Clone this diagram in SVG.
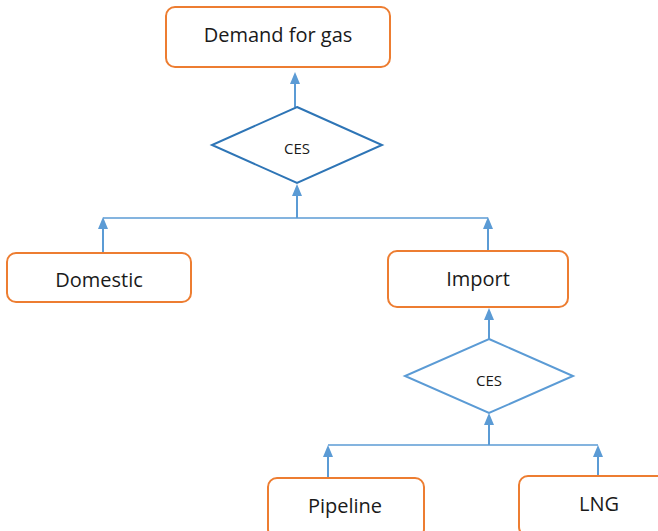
<svg xmlns="http://www.w3.org/2000/svg" width="658" height="531" viewBox="0 0 658 531">
<style>
.box{fill:#fff;stroke:#ED7D31;stroke-width:2}
.lbl{font-family:"Open Sans","Liberation Sans",sans-serif;font-size:20px;fill:#1a1a1a;text-anchor:middle}
.small{font-family:"Open Sans","Liberation Sans",sans-serif;font-size:15px;fill:#1a1a1a;text-anchor:middle}
.con{stroke:#5B9BD5;stroke-width:2;fill:none}
.hl{stroke:#5B9BD5;stroke-width:1.3;fill:none}
.ah{fill:#5B9BD5}
</style>
<g id="connectors">
<line class="con" x1="295" y1="107" x2="295" y2="82"/>
<path class="ah" d="M290,84 L295,72 L300,84 Z"/>
<line class="con" x1="297" y1="218" x2="297" y2="194"/>
<path class="ah" d="M292,196 L297,184 L302,196 Z"/>
<line class="hl" x1="103" y1="218" x2="488" y2="218"/>
<line class="con" x1="103" y1="253" x2="103" y2="227"/>
<path class="ah" d="M98,229 L103,217 L108,229 Z"/>
<line class="con" x1="488" y1="251" x2="488" y2="227"/>
<path class="ah" d="M483,229 L488,217 L493,229 Z"/>
<line class="con" x1="489" y1="339" x2="489" y2="318"/>
<path class="ah" d="M484,320 L489,308 L494,320 Z"/>
<line class="con" x1="489" y1="445" x2="489" y2="423"/>
<path class="ah" d="M484,425 L489,413 L494,425 Z"/>
<line class="hl" x1="328" y1="445" x2="598" y2="445"/>
<line class="con" x1="328" y1="477" x2="328" y2="455"/>
<path class="ah" d="M323,457 L328,445 L333,457 Z"/>
<line class="con" x1="598" y1="476" x2="598" y2="455"/>
<path class="ah" d="M593,457 L598,445 L603,457 Z"/>
</g>
<g id="demand">
<rect class="box" x="166" y="7" width="224" height="60" rx="9"/>
<text class="lbl" x="278" y="42">Demand for gas</text>
</g>
<g id="ces1">
<polygon points="297,107 382,145 297,183 212,145" fill="#fff" stroke="#2E75B6" stroke-width="2"/>
<text class="small" x="297" y="154">CES</text>
</g>
<g id="domestic">
<rect class="box" x="7" y="253" width="184" height="49" rx="9"/>
<text class="lbl" x="99" y="287">Domestic</text>
</g>
<g id="import">
<rect class="box" x="388" y="251" width="180" height="56" rx="9"/>
<text class="lbl" x="478" y="286">Import</text>
</g>
<g id="ces2">
<polygon points="489,339 573,376 489,413 405,376" fill="#fff" stroke="#5B9BD5" stroke-width="2"/>
<text class="small" x="489" y="386">CES</text>
</g>
<g id="pipeline">
<rect class="box" x="268" y="478" width="156" height="60" rx="9"/>
<text class="lbl" x="345" y="513">Pipeline</text>
</g>
<g id="lng">
<rect class="box" x="519" y="476" width="150" height="60" rx="9"/>
<text class="lbl" x="599" y="511">LNG</text>
</g>
</svg>
